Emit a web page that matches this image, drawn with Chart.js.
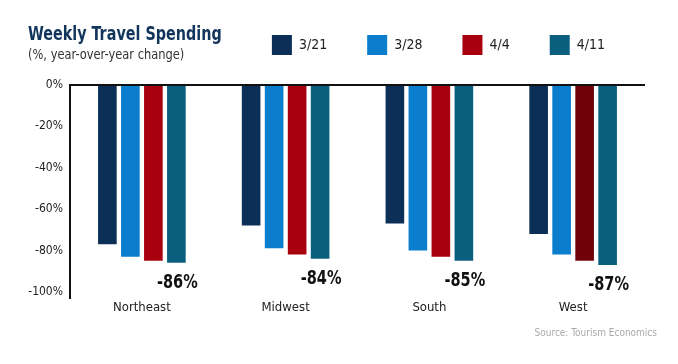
<!DOCTYPE html>
<html>
<head>
<meta charset="utf-8">
<script src="https://cdn.jsdelivr.net/npm/chart.js@4.4.1/dist/chart.umd.min.js"></script>
<style>
  html, body { margin: 0; padding: 0; background: #fff; }
  #wrap { position: relative; width: 678px; height: 364px; }
  #chart { position: absolute; left: 0; top: 0; }
  .txt { position: absolute; white-space: nowrap; font-family: "Liberation Sans Narrow", "DejaVu Sans Condensed", Roboto, sans-serif; transform-origin: left top; }
  #title { left: 28px; top: 24px; font-size: 19px; font-weight: bold; color: #12355b; line-height: 1; transform: scaleX(0.84); }
  #subtitle { left: 28px; top: 47px; font-size: 14px; color: #333; line-height: 1; transform: scaleX(0.91); }
  #source { right: 21px; top: 328px; font-size: 10px; color: #aaa; line-height: 1; }
</style>
</head>
<body>
<div id="wrap">
  <canvas id="chart" width="678" height="364"></canvas>
  <div class="txt" id="title">Weekly Travel Spending</div>
  <div class="txt" id="subtitle">(%, year-over-year change)</div>
  <div class="txt" id="source">Source: Tourism Economics</div>
</div>
<script>
// data
const regions = ['Northeast', 'Midwest', 'South', 'West'];
const weeks = ['3/21', '3/28', '4/4', '4/11'];
const week0321 = [-77, -68, -67, -72];
const week0328 = [-83, -79, -80, -82];
const week0404 = [-85, -82, -83, -85];
const week0411 = [-86, -84, -85, -87];
const yTicks = [0, -20, -40, -60, -80, -100];

const FONT = '"Liberation Sans Narrow", "DejaVu Sans Condensed", Roboto, sans-serif';
const navy = '#0c2f57';
const blue = '#0a7dcc';
const red = '#a8000f';
const darkRed = '#72000b';
const teal = '#0a5f7f';

// pushes the plot area down below the legend row
const legendGap = {
  id: 'legendGap',
  beforeLayout(chart) {
    const lg = chart.legend;
    if (lg && !lg._gapped) {
      const fit = lg.fit;
      lg.fit = function () { fit.call(this); this.height += 20; };
      lg._gapped = true;
    }
  }
};

// bold number under the last week's bar
const valueLabels = {
  id: 'valueLabels',
  afterDatasetsDraw(chart) {
    const meta = chart.getDatasetMeta(3);
    const ctx = chart.ctx;
    ctx.save();
    ctx.font = 'bold 19px ' + FONT;
    ctx.fillStyle = '#111';
    ctx.textAlign = 'center';
    ctx.textBaseline = 'middle';
    meta.data.forEach((bar, i) => {
      ctx.save();
      ctx.translate(bar.x + 1, bar.y + 20);
      ctx.scale(0.85, 1);
      ctx.fillText(week0411[i] + '%', 0, 0);
      ctx.restore();
    });
    ctx.restore();
  }
};

const ctx = document.getElementById('chart').getContext('2d');
const chart = new Chart(ctx, {
  type: 'bar',
  data: {
    labels: regions,
    datasets: [
      { label: weeks[0], data: week0321, backgroundColor: navy },
      { label: weeks[1], data: week0328, backgroundColor: blue },
      { label: weeks[2], data: week0404, backgroundColor: c => c.dataIndex === 3 ? darkRed : red },
      { label: weeks[3], data: week0411, backgroundColor: teal }
    ]
  },
  options: {
    responsive: false,
    animation: false,
    devicePixelRatio: 1,
    categoryPercentage: 0.64,
    barPercentage: 0.81,
    layout: { padding: { top: -5, right: 33, bottom: 0, left: 0 } },
    plugins: {
      tooltip: { enabled: false },
      legend: {
        position: 'top',
        align: 'end',
        labels: {
          boxWidth: 20,
          boxHeight: 20,
          padding: 40,
          color: '#222',
          font: { family: FONT, size: 14 }
        }
      }
    },
    scales: {
      x: {
        grid: { display: false },
        border: { display: false },
        ticks: { color: '#222', padding: -6, font: { family: FONT, size: 13 } },
        afterFit: s => { s.height = 66; }
      },
      y: {
        min: -103,
        max: 0,
        afterBuildTicks: s => { s.ticks = yTicks.map(v => ({ value: v })); },
        afterFit: s => { s.width = 70; },
        grid: {
          drawTicks: false,
          color: c => c.tick && c.tick.value === 0 ? '#111' : 'rgba(0,0,0,0)',
          lineWidth: 2
        },
        border: { display: true, color: '#111', width: 2 },
        ticks: {
          color: '#222',
          padding: 7,
          font: { family: FONT, size: 12 },
          callback: v => v + '%'
        }
      }
    }
  },
  plugins: [legendGap, valueLabels]
});
</script>
</body>
</html>
